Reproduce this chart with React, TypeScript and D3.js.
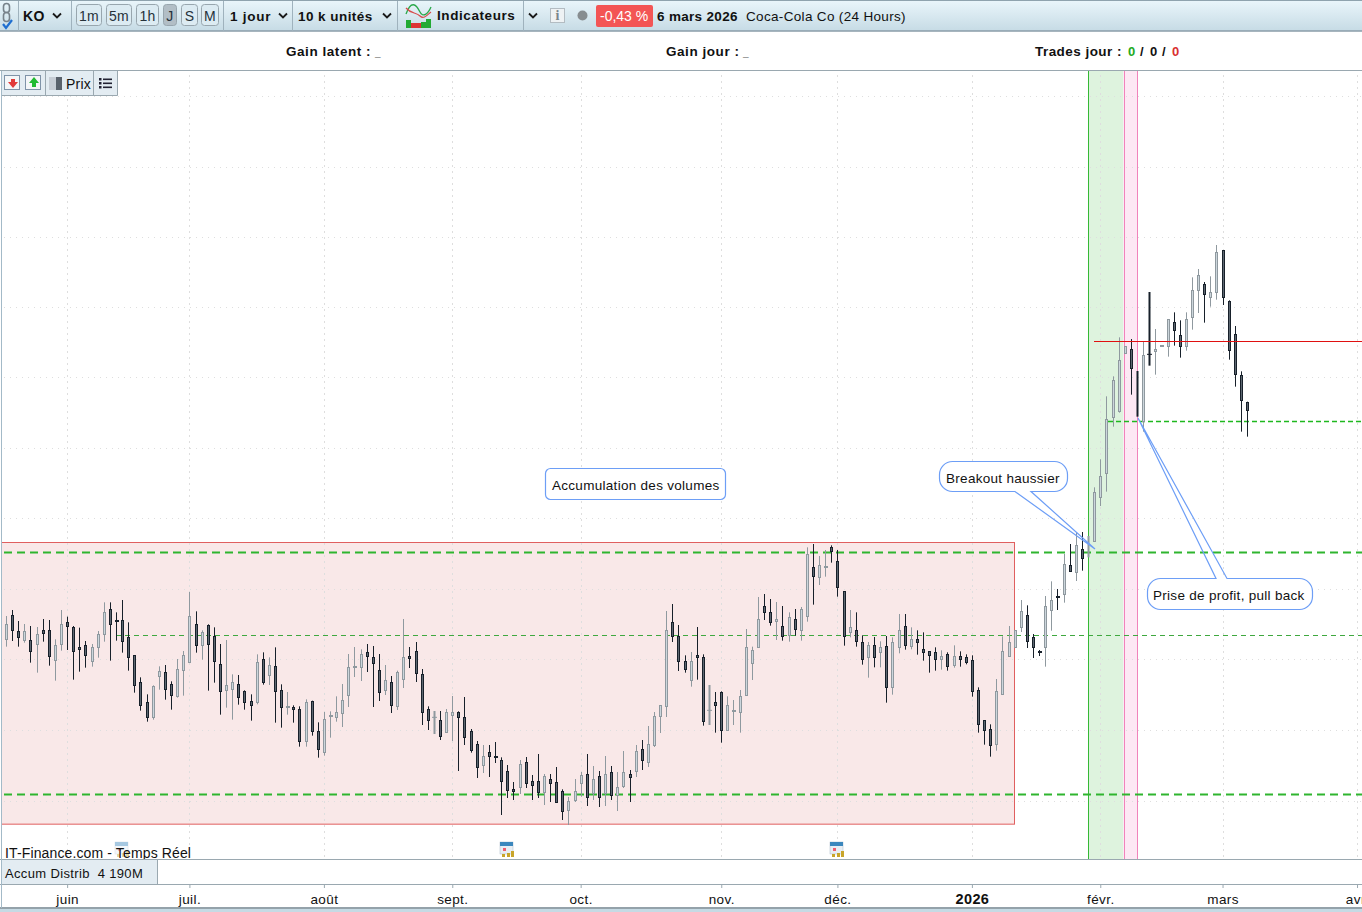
import { useEffect, useRef } from "react";
import * as d3 from "d3";

// Daily candles, Coca-Cola Co, no price axis on the screen so prices are read relative to the picture
const opens = [
  68.82, 69.54, 69.06, 68.79, 68.79, 68.67, 69.09, 69.09, 68.19, 68.67,
  69.33, 69.18, 68.58, 68.64, 68.16, 68.58, 68.97, 69.72, 69.40, 69.39,
  68.88, 68.34, 67.53, 66.93, 66.48, 67.71, 67.83, 67.47, 67.13, 67.89,
  68.13, 69.27, 68.64, 69.24, 68.91, 68.07, 67.29, 67.32, 67.47, 67.26,
  66.96, 66.93, 68.22, 67.74, 68.01, 67.29, 66.80, 66.78, 66.72, 65.76,
  66.96, 66.06, 65.43, 66.51, 66.48, 66.62, 67.16, 68.01, 68.00, 68.43,
  68.28, 67.89, 67.31, 67.53, 66.83, 67.62, 68.31, 68.46, 67.77, 66.72,
  66.45, 66.39, 66.05, 66.56, 66.63, 66.48, 66.06, 65.67, 65.06, 65.43,
  65.31, 65.19, 64.86, 64.32, 64.40, 65.13, 64.56, 64.56, 64.25, 64.62,
  64.53, 64.26, 63.71, 64.01, 64.52, 64.77, 64.20, 64.71, 64.20, 64.83,
  64.15, 64.43, 64.77, 64.87, 65.52, 65.15, 65.66, 66.53, 66.83, 69.33,
  68.92, 68.16, 67.61, 68.34, 68.28, 66.67, 66.93, 67.23, 66.11, 66.67,
  66.63, 67.16, 68.12, 68.58, 69.81, 69.63, 69.36, 69.21, 68.94, 69.42,
  69.09, 69.51, 70.98, 70.68, 71.00, 71.58, 71.16, 70.26, 69.03, 69.09,
  68.73, 68.28, 68.64, 68.43, 68.61, 67.38, 68.58, 69.21, 68.61, 68.82,
  68.52, 68.46, 68.43, 68.22, 68.37, 68.04, 68.31, 68.28, 68.19, 67.29,
  66.39, 66.12, 65.67, 67.17, 68.33, 68.58, 69.18, 69.54, 68.90, 68.48,
  68.60, 69.69, 70.11, 70.17, 71.04, 70.85, 71.52, 71.28, 71.76, 73.08,
  73.80, 75.50, 75.68, 77.42, 77.52, 76.86, 75.36, 77.38, 77.48, 77.63,
  77.61, 78.33, 77.94, 77.61, 78.48, 79.29, 79.47, 79.08, 79.23, 80.49,
  78.96, 77.97, 76.74, 75.93,
];
const highs = [
  69.52, 69.70, 69.37, 69.28, 69.22, 69.19, 69.43, 69.40, 68.82, 69.70,
  69.50, 69.22, 69.17, 68.77, 68.68, 69.07, 69.93, 69.93, 69.63, 70.00,
  69.33, 68.34, 67.68, 67.17, 67.44, 68.01, 68.05, 67.56, 68.23, 68.47,
  70.24, 69.66, 69.09, 69.27, 69.18, 68.68, 68.80, 67.77, 67.75, 67.29,
  67.17, 68.37, 68.43, 68.28, 68.58, 67.47, 67.24, 66.84, 66.81, 67.02,
  66.98, 66.33, 66.64, 66.66, 67.11, 67.48, 68.38, 68.59, 68.52, 68.68,
  68.62, 68.38, 68.05, 67.72, 67.88, 69.43, 68.59, 68.74, 67.93, 66.81,
  66.67, 66.67, 66.73, 67.12, 66.66, 67.09, 66.13, 65.77, 65.65, 65.65,
  65.74, 65.28, 65.05, 64.54, 65.20, 65.29, 64.75, 65.38, 64.78, 64.78,
  64.99, 64.32, 64.09, 64.63, 64.84, 65.38, 65.02, 64.87, 65.32, 65.02,
  64.84, 65.47, 64.90, 65.65, 65.80, 66.22, 66.64, 66.84, 69.67, 69.88,
  69.25, 68.34, 68.44, 69.19, 68.37, 67.45, 67.24, 67.26, 67.11, 67.00,
  67.30, 69.13, 68.60, 70.09, 70.18, 70.03, 69.94, 69.82, 69.63, 69.73,
  69.79, 71.58, 71.68, 71.32, 71.50, 71.64, 71.50, 70.26, 69.70, 69.63,
  68.94, 68.74, 68.89, 68.76, 68.92, 68.88, 69.58, 69.58, 69.18, 69.09,
  69.03, 68.46, 68.58, 68.49, 68.43, 68.64, 68.46, 68.37, 68.34, 67.38,
  66.39, 66.27, 67.63, 68.91, 69.22, 69.09, 70.00, 69.84, 68.98, 68.50,
  70.12, 70.56, 70.33, 71.38, 71.68, 72.04, 72.04, 71.92, 73.38, 74.22,
  76.11, 76.71, 77.88, 77.61, 77.83, 76.87, 77.75, 79.24, 78.13, 77.65,
  78.42, 78.63, 78.39, 78.63, 79.68, 79.93, 79.54, 79.71, 80.65, 80.49,
  78.99, 78.22, 76.86, 75.95,
];
const lows = [
  68.60, 68.77, 68.60, 68.72, 68.12, 67.82, 68.75, 68.03, 67.58, 68.48,
  68.50, 67.61, 67.85, 67.97, 68.00, 68.27, 68.75, 68.18, 68.78, 68.42,
  67.88, 67.22, 66.68, 66.35, 66.41, 67.31, 67.01, 66.71, 67.07, 67.13,
  68.13, 68.42, 68.21, 67.28, 67.52, 66.56, 66.77, 66.41, 66.86, 66.71,
  66.38, 66.87, 67.46, 67.45, 66.32, 66.17, 66.56, 66.32, 65.60, 65.60,
  65.93, 65.27, 65.33, 65.87, 66.35, 66.19, 66.79, 67.69, 67.57, 67.84,
  66.79, 66.97, 67.15, 66.61, 66.70, 67.36, 67.96, 67.54, 66.25, 66.10,
  65.98, 65.80, 66.05, 65.77, 64.87, 65.65, 65.42, 64.66, 64.81, 64.69,
  65.11, 63.55, 64.06, 64.00, 64.18, 64.36, 64.00, 64.06, 63.85, 63.94,
  63.91, 63.40, 63.25, 63.94, 64.10, 63.82, 64.00, 63.79, 63.82, 64.00,
  63.67, 64.36, 63.94, 64.69, 64.90, 64.99, 65.59, 66.01, 66.49, 68.74,
  67.87, 67.82, 67.40, 67.61, 66.23, 66.25, 66.02, 65.72, 66.10, 66.25,
  66.02, 67.13, 67.60, 68.58, 69.40, 69.23, 68.80, 68.78, 68.75, 68.93,
  68.78, 69.35, 69.86, 70.45, 70.70, 71.12, 70.10, 68.63, 68.88, 68.60,
  68.06, 67.67, 67.98, 67.98, 66.92, 67.16, 68.40, 68.51, 68.52, 68.36,
  68.18, 67.82, 67.88, 67.91, 67.88, 67.97, 68.00, 68.07, 67.10, 66.02,
  65.66, 65.30, 65.48, 67.17, 68.33, 68.58, 69.04, 68.56, 68.26, 68.32,
  68.00, 69.08, 69.70, 69.92, 70.85, 70.57, 70.88, 71.28, 71.76, 72.82,
  73.25, 75.20, 75.62, 77.42, 76.16, 75.50, 75.05, 77.03, 76.76, 77.63,
  77.30, 77.63, 77.27, 77.48, 78.11, 78.61, 78.32, 78.80, 79.01, 78.85,
  77.21, 76.40, 75.05, 74.90,
];
const closes = [
  69.27, 69.09, 68.90, 69.06, 68.46, 68.97, 69.02, 68.31, 68.64, 69.27,
  69.21, 68.46, 68.52, 68.34, 68.58, 68.97, 69.63, 69.27, 69.38, 68.76,
  68.28, 67.44, 66.84, 66.48, 67.41, 67.86, 67.32, 67.14, 67.92, 68.34,
  69.51, 68.64, 69.03, 68.67, 68.16, 67.26, 67.44, 67.53, 67.08, 66.93,
  66.84, 68.13, 67.53, 68.04, 67.26, 66.78, 66.81, 66.72, 65.76, 66.93,
  66.06, 65.52, 66.42, 66.54, 66.63, 66.99, 67.98, 68.03, 68.37, 68.33,
  68.12, 67.25, 67.59, 66.86, 67.84, 68.28, 68.27, 67.82, 66.65, 66.41,
  66.48, 65.93, 66.63, 66.63, 66.50, 65.90, 65.51, 65.00, 65.31, 65.33,
  65.28, 64.58, 64.31, 64.28, 65.07, 64.52, 64.46, 64.25, 64.71, 64.52,
  63.95, 63.68, 63.96, 64.26, 64.74, 64.10, 64.62, 64.10, 64.77, 64.16,
  64.38, 64.83, 64.70, 65.46, 65.21, 65.67, 66.51, 66.84, 69.09, 68.93,
  68.18, 67.92, 68.16, 68.30, 66.38, 66.69, 66.86, 66.09, 66.84, 66.69,
  67.11, 68.58, 68.49, 69.42, 69.65, 69.33, 69.42, 68.93, 69.48, 69.12,
  69.72, 71.38, 70.71, 71.04, 71.02, 71.48, 70.40, 68.93, 69.18, 68.76,
  68.22, 68.64, 68.28, 68.58, 67.38, 68.73, 69.09, 68.64, 68.82, 68.73,
  68.43, 68.34, 68.22, 68.31, 68.01, 68.31, 68.22, 68.13, 67.26, 66.27,
  66.09, 65.64, 67.26, 68.46, 68.73, 69.09, 69.66, 68.76, 68.60, 68.45,
  69.81, 69.99, 70.09, 71.07, 70.87, 71.64, 71.27, 71.92, 73.23, 73.71,
  75.42, 76.59, 77.19, 77.61, 76.97, 75.51, 77.34, 77.37, 77.52, 77.65,
  78.42, 78.11, 77.61, 78.42, 79.29, 79.74, 79.17, 79.23, 80.43, 79.08,
  77.49, 76.77, 75.99, 75.71,
];

// Bars the platform paints as a thick stem with no body
const stemBars = [70, 115, 177, 185, 187];

const monthLabels = ["juin", "juil.", "août", "sept.", "oct.", "nov.", "déc.", "2026", "févr.", "mars", "avr."];
const monthBars = [10, 30, 52, 73, 94, 117, 136, 158, 179, 199, 221];
const eventBars = [19, 82, 136];

const gridPrices = [85.12, 82.99, 80.89, 78.79, 76.69, 74.56, 72.46, 70.33, 68.23, 66.1, 63.97];

// Levels and zones
const resistance = 71.44;
const support = 64.18;
const midLevel = 68.94;
const pullbackLevel = 75.38;
const lastLevel = 77.77;
const zoneTop = 71.73;
const zoneBottom = 63.28;
const breakoutBars = [177, 182.8];
const profitBars = [182.8, 185];

const FONT = "'Liberation Sans', Arial, sans-serif";
const W = 1362;
const H = 912;

export default function App(): JSX.Element {
  const svgRef = useRef<SVGSVGElement>(null);

  useEffect(() => {
    const svg = d3.select(svgRef.current);
    svg.selectAll("*").remove();

    const x = d3.scaleLinear().domain([0, 203]).range([6, 1247]);
    const y = d3.scaleLinear().domain([88, 88 - H * 0.03]).range([0, H]);
    const top = 71;
    const bottom = 859;

    // gradient for the top toolbar
    const defs = svg.append("defs");
    const grad = defs.append("linearGradient").attr("id", "bar").attr("x2", 0).attr("y2", 1);
    grad.append("stop").attr("offset", 0).attr("stop-color", "#eaf6fb");
    grad.append("stop").attr("offset", 1).attr("stop-color", "#c6dbe5");
    defs.append("clipPath").attr("id", "plot").append("rect").attr("x", 1).attr("y", top).attr("width", W).attr("height", bottom - top);

    svg.append("rect").attr("width", W).attr("height", H).attr("fill", "#fff");

    const plot = svg.append("g").attr("clip-path", "url(#plot)");

    // accumulation zone
    plot.append("rect")
      .attr("x", 1.5).attr("y", Math.round(y(zoneTop)) + 0.5)
      .attr("width", 1013).attr("height", y(zoneBottom) - y(zoneTop))
      .attr("fill", "#f9e8e8").attr("stroke", "#e05f5f");

    // shaded periods
    plot.append("rect").attr("x", x(breakoutBars[0])).attr("y", top)
      .attr("width", x(breakoutBars[1]) - x(breakoutBars[0])).attr("height", bottom - top).attr("fill", "#def3de");
    plot.append("rect").attr("x", x(profitBars[0])).attr("y", top)
      .attr("width", x(profitBars[1]) - x(profitBars[0]) + 0.5).attr("height", bottom - top).attr("fill", "#fde8f4");
    plot.append("line").attr("x1", 1088.5).attr("x2", 1088.5).attr("y1", top).attr("y2", bottom).attr("stroke", "#35b935");
    [x(profitBars[0]), x(profitBars[1])].forEach(px => {
      const p = Math.round(px) + 0.5;
      plot.append("line").attr("x1", p).attr("x2", p).attr("y1", top).attr("y2", bottom).attr("stroke", "#f183bb");
    });

    // dotted grid
    plot.selectAll("line.h").data(gridPrices).enter().append("line")
      .attr("x1", 4).attr("x2", W)
      .attr("y1", d => Math.round(y(d)) + 0.5).attr("y2", d => Math.round(y(d)) + 0.5)
      .attr("stroke", "#dedede").attr("stroke-dasharray", "1,5");
    plot.selectAll("line.v").data(monthBars).enter().append("line")
      .attr("x1", d => Math.round(x(d)) + 0.5).attr("x2", d => Math.round(x(d)) + 0.5)
      .attr("y1", 75).attr("y2", bottom)
      .attr("stroke", "#dedede").attr("stroke-dasharray", "2,4");

    // levels
    const level = (price: number, from: number, color: string, width: number, dash: string) =>
      plot.append("line")
        .attr("x1", from).attr("x2", W)
        .attr("y1", Math.round(y(price)) + 0.5).attr("y2", Math.round(y(price)) + 0.5)
        .attr("stroke", color).attr("stroke-width", width).attr("stroke-dasharray", dash);
    level(resistance, 4, "#2fb52f", 2, "8,5");
    level(support, 4, "#2fb52f", 2, "8,5");
    level(midLevel, 116, "#3fa83f", 1, "5,4");
    level(pullbackLevel, 1108, "#1fb81f", 1.6, "5,3");

    // candles
    const candles = plot.append("g");
    opens.forEach((o, i) => {
      const c = closes[i];
      const up = c >= o;
      const cx = Math.round(x(i));
      const dark = "#17202a";
      const grey = "#8f999f";
      const stemColor = up ? grey : dark;
      const stem = stemBars.includes(i);
      candles.append("line")
        .attr("x1", cx + 0.5).attr("x2", cx + 0.5)
        .attr("y1", y(highs[i])).attr("y2", y(lows[i]))
        .attr("stroke", stemColor).attr("stroke-width", stem ? 2 : 1);
      if (stem) {
        if (Math.abs(o - c) < 0.1) {
          candles.append("line")
            .attr("x1", cx - 2).attr("x2", cx + 3)
            .attr("y1", y(c)).attr("y2", y(c))
            .attr("stroke", stemColor);
        }
        return;
      }
      const t = Math.round(y(Math.max(o, c)));
      const b = Math.round(y(Math.min(o, c)));
      if (b - t < 2) {
        candles.append("rect")
          .attr("x", cx - 1).attr("y", t).attr("width", 4).attr("height", 2)
          .attr("fill", stemColor);
        return;
      }
      candles.append("rect")
        .attr("x", cx - 0.5).attr("y", t + 0.5)
        .attr("width", 2).attr("height", b - t)
        .attr("fill", up ? "#ccd6dc" : "#5d6771")
        .attr("stroke", stemColor);
    });

    plot.append("line")
      .attr("x1", 1094).attr("x2", W)
      .attr("y1", Math.round(y(lastLevel)) + 0.5).attr("y2", Math.round(y(lastLevel)) + 0.5)
      .attr("stroke", "#e01010");

    // callouts: white box, outline drawn over it, the tail stays see-through
    const callout = (l: number, t: number, r: number, b: number, d: string, tx: number, ty: number, label: string) => {
      svg.append("rect").attr("x", l + 3).attr("y", t).attr("width", r - l - 6).attr("height", b - t).attr("fill", "#fff");
      svg.append("rect").attr("x", l).attr("y", t + 3).attr("width", r - l).attr("height", b - t - 6).attr("fill", "#fff");
      svg.append("path").attr("d", d).attr("fill", "none")
        .attr("stroke", "#6d9ef6").attr("stroke-width", 1.2);
      svg.append("text").attr("x", tx).attr("y", ty).text(label)
        .attr("font-family", FONT).attr("font-size", 13.5).attr("letter-spacing", 0.29).attr("fill", "#111");
    };
    const box = (l: number, t: number, r: number, b: number, rad: number, tail?: [number, number, number, number]) => {
      const p = d3.path();
      p.moveTo(l + rad, t);
      if (tail && tail[3] > b === false) {
        p.lineTo(tail[0], t);
        p.lineTo(tail[2], tail[3]);
        p.lineTo(tail[1], t);
      }
      p.lineTo(r - rad, t);
      p.arcTo(r, t, r, t + rad, rad);
      p.lineTo(r, b - rad);
      p.arcTo(r, b, r - rad, b, rad);
      if (tail && tail[3] > b) {
        p.lineTo(tail[1], b);
        p.lineTo(tail[2], tail[3]);
        p.lineTo(tail[0], b);
      }
      p.lineTo(l + rad, b);
      p.arcTo(l, b, l, b - rad, rad);
      p.lineTo(l, t + rad);
      p.arcTo(l, t, l + rad, t, rad);
      p.closePath();
      return p.toString();
    };
    callout(545.5, 468.5, 725.5, 499.5, box(545.5, 468.5, 725.5, 499.5, 5), 552, 490, "Accumulation des volumes");
    callout(939.5, 461.5, 1067.5, 491.5, box(939.5, 461.5, 1067.5, 491.5, 13, [1015, 1031, 1095, 549]), 946, 483, "Breakout haussier");
    callout(1147.5, 578.5, 1312.5, 609.5, box(1147.5, 578.5, 1312.5, 609.5, 13, [1216, 1227, 1138, 418]), 1153, 600, "Prise de profit, pull back");

    // calendar markers
    eventBars.forEach((b, i) => {
      const g = svg.append("g")
        .attr("transform", `translate(${Math.round(x(b)) - 7},842)`)
        .attr("opacity", i === 0 ? 0.45 : 1);
      g.append("rect").attr("width", 13).attr("height", 12).attr("fill", "#e8eef4").attr("stroke", "#a8b8c8").attr("stroke-width", 0.5);
      g.append("rect").attr("width", 13).attr("height", 4).attr("fill", "#3b87bd");
      g.append("rect").attr("x", 3).attr("y", 6).attr("width", 3).attr("height", 3).attr("fill", "#f06070");
      g.append("rect").attr("x", 2).attr("y", 12).attr("width", 3).attr("height", 3).attr("fill", "#c9a52b");
      g.append("rect").attr("x", 7).attr("y", 11).attr("width", 3).attr("height", 4).attr("fill", "#c9a52b");
      g.append("rect").attr("x", 11).attr("y", 9).attr("width", 3).attr("height", 6).attr("fill", "#c9a52b");
    });

    const text = (px: number, py: number, s: string, size = 13, bold = false, spacing = 0.4, color = "#111") =>
      svg.append("text").attr("x", px).attr("y", py).text(s)
        .attr("font-family", FONT).attr("font-size", size)
        .attr("font-weight", bold ? "bold" : "normal")
        .attr("letter-spacing", spacing).attr("fill", color);
    const hline = (yy: number, color: string, w = 1) =>
      svg.append("line").attr("x1", 0).attr("x2", W).attr("y1", yy).attr("y2", yy).attr("stroke", color).attr("stroke-width", w);

    text(5, 858, "IT-Finance.com - Temps Réel", 14, false, 0.13);

    // lower panels
    svg.append("rect").attr("x", 0).attr("y", 859).attr("width", W).attr("height", 53).attr("fill", "#fff");
    hline(859.5, "#9aa8b0");
    svg.append("rect").attr("x", 1).attr("y", 860).attr("width", 157).attr("height", 24).attr("fill", "#e3ecf2");
    svg.append("line").attr("x1", 157.5).attr("x2", 157.5).attr("y1", 860).attr("y2", 884).attr("stroke", "#9aa8b0");
    text(5, 878, "Accum Distrib  4 190M", 13, false, 0.35).attr("xml:space", "preserve").style("white-space", "pre");
    hline(884.5, "#9aa8b0");

    // time axis
    const axis = d3.axisBottom(x)
      .tickValues(monthBars)
      .tickSize(3)
      .tickFormat((_, i) => monthLabels[i]);
    const axisG = svg.append("g").attr("transform", "translate(0,885)").call(axis);
    axisG.select(".domain").remove();
    axisG.selectAll("line").attr("stroke", "#9aa8b0");
    axisG.selectAll<SVGTextElement, number>("text")
      .attr("y", 9)
      .attr("font-family", FONT)
      .attr("font-size", d => (d === 158 ? 14.5 : 13.5))
      .attr("font-weight", d => (d === 158 ? "bold" : "normal"))
      .attr("letter-spacing", 0.4)
      .attr("fill", "#111");

    svg.append("rect").attr("x", 0).attr("y", 907).attr("width", W).attr("height", 2).attr("fill", "#94a2aa");
    svg.append("rect").attr("x", 0).attr("y", 909).attr("width", W).attr("height", 3).attr("fill", "#c6dae4");
    svg.append("line").attr("x1", 1.5).attr("x2", 1.5).attr("y1", 32).attr("y2", 908).attr("stroke", "#a3bac8");

    // gains row
    svg.append("rect").attr("x", 0).attr("y", 32).attr("width", W).attr("height", 38).attr("fill", "#fff");
    hline(70.5, "#9aa8b0");
    text(286, 56, "Gain latent : ", 13.5, true, 0.55);
    text(375, 56, "_", 10, true, 0);
    text(666, 56, "Gain jour : ", 13.5, true, 0.55);
    text(743, 56, "_", 10, true, 0);
    text(1035, 56, "Trades jour : ", 13.5, true, 0.45);
    text(1128, 56, "0", 13, true, 0, "#22aa22");
    text(1140, 56, "/", 13, true, 0);
    text(1150, 56, "0", 13, true, 0);
    text(1162, 56, "/", 13, true, 0);
    text(1172, 56, "0", 13, true, 0, "#d93030");

    // order buttons panel
    svg.append("rect").attr("x", 2).attr("y", 71).attr("width", 116).attr("height", 25).attr("fill", "#e3ecf2");
    svg.append("path").attr("d", "M2,95.5H117.5V71").attr("fill", "none").attr("stroke", "#9aa8b0");
    [[4, "#e23a3a", "M8,82h3v-3h4v3h3l-5,6z"], [25, "#22bb33", "M29,83l5,-6l5,6h-3v4h-4v-4z"]].forEach(([bx, col, d]) => {
      svg.append("rect").attr("x", bx as number + 0.5).attr("y", 75.5).attr("width", 15).attr("height", 14)
        .attr("fill", "#f4f6f8").attr("stroke", "#7f93a8");
      svg.append("path").attr("d", d as string).attr("fill", col as string);
    });
    [45.5, 93.5].forEach(sx => svg.append("line").attr("x1", sx).attr("x2", sx).attr("y1", 71).attr("y2", 95).attr("stroke", "#9aa8b0"));
    svg.append("rect").attr("x", 49).attr("y", 77).attr("width", 7).attr("height", 13).attr("fill", "#c7ced6");
    svg.append("rect").attr("x", 56).attr("y", 77).attr("width", 6).attr("height", 13).attr("fill", "#59626c");
    text(66, 89, "Prix", 14, false, 0.2);
    [79, 83, 87].forEach(ly => {
      svg.append("rect").attr("x", 99).attr("y", ly - 1).attr("width", 2.5).attr("height", 2.5).attr("fill", "#223");
      svg.append("rect").attr("x", 103).attr("y", ly - 0.5).attr("width", 9).attr("height", 1.6).attr("fill", "#223");
    });

    // main toolbar
    svg.append("rect").attr("x", 0).attr("y", 0).attr("width", W).attr("height", 31).attr("fill", "url(#bar)");
    hline(0.5, "#8fa3ae");
    hline(31, "#8a9ca8", 1.5);
    [18.5, 71.5, 223.5, 292.5, 397.5, 523.5].forEach(sx =>
      svg.append("line").attr("x1", sx).attr("x2", sx).attr("y1", 1).attr("y2", 31).attr("stroke", "#9fb2bd"));

    // chain icon
    svg.append("rect").attr("x", 3.5).attr("y", 3.5).attr("width", 6).attr("height", 9).attr("rx", 3).attr("fill", "none").attr("stroke", "#77828a").attr("stroke-width", 1.6);
    svg.append("rect").attr("x", 3.5).attr("y", 12.5).attr("width", 6).attr("height", 9).attr("rx", 3).attr("fill", "none").attr("stroke", "#77828a").attr("stroke-width", 1.6);
    svg.append("path").attr("d", "M3,24l3,4l6,-8").attr("fill", "none").attr("stroke", "#1f6fd0").attr("stroke-width", 2.2);

    const chevron = (cx: number) =>
      svg.append("path").attr("d", `M${cx - 4},13.5l4,4l4,-4`).attr("fill", "none").attr("stroke", "#1a1a1a").attr("stroke-width", 1.8);

    text(23, 21, "KO", 14, true, 0.3);
    chevron(57);
    const buttons: [string, number, number, boolean][] = [
      ["1m", 76, 25, false], ["5m", 106, 25, false], ["1h", 136, 22, false],
      ["J", 163, 13, true], ["S", 181, 16, false], ["M", 201, 17, false],
    ];
    buttons.forEach(([label, bx, bw, active]) => {
      svg.append("rect").attr("x", bx + 0.5).attr("y", 4.5).attr("width", bw).attr("height", 21).attr("rx", 3)
        .attr("fill", active ? "#b2bec6" : "#dcebf2").attr("stroke", "#98a6ae");
      svg.append("text").attr("x", bx + bw / 2 + 0.5).attr("y", 21).text(label)
        .attr("text-anchor", "middle").attr("font-family", FONT).attr("font-size", 14)
        .attr("letter-spacing", 0.3).attr("fill", "#26323a");
    });
    text(230, 21, "1 jour", 13.5, true, 0.75);
    chevron(283);
    text(298, 21, "10 k unités", 13.5, true, 0.45);
    chevron(387);

    // indicators icon
    svg.append("path").attr("d", "M406,14C411,0 416,4 420,12C423,18 428,14 431,7").attr("fill", "none").attr("stroke", "#2aa84a").attr("stroke-width", 1.3);
    svg.append("path").attr("d", "M406,8C411,14 416,12 420,16C424,20 428,14 431,12").attr("fill", "none").attr("stroke", "#d84a4a").attr("stroke-width", 1.2);
    [[406, 20, "#22aa33"], [411, 23, "#dd3333"], [416, 23, "#dd3333"], [421, 22, "#22aa33"], [426, 19, "#22aa33"]].forEach(([bx, by, col]) =>
      svg.append("rect").attr("x", bx as number).attr("y", by as number).attr("width", 5).attr("height", 28 - (by as number)).attr("fill", col as string));
    text(437, 20, "Indicateurs", 13.5, true, 0.58);
    chevron(533);

    svg.append("rect").attr("x", 550.5).attr("y", 8.5).attr("width", 14).attr("height", 14).attr("fill", "#eef2f4").attr("stroke", "#b3bcc2");
    svg.append("text").attr("x", 557.5).attr("y", 20).text("i").attr("text-anchor", "middle")
      .attr("font-family", "'Liberation Serif', serif").attr("font-weight", "bold").attr("font-size", 14).attr("fill", "#7a868c");
    svg.append("circle").attr("cx", 582.5).attr("cy", 15.5).attr("r", 5).attr("fill", "#878d90");

    svg.append("rect").attr("x", 596).attr("y", 5).attr("width", 57).attr("height", 22).attr("rx", 2).attr("fill", "#f35555");
    text(600, 21, "-0,43 %", 14, false, 0, "#fff");
    text(657, 21, "6 mars 2026", 13.5, true, 0.32);
    text(746, 21, "Coca-Cola Co (24 Hours)", 13.5, false, 0.33);
  }, []);

  return (
    <svg
      ref={svgRef}
      width={W}
      height={H}
      style={{ position: "absolute", left: 0, top: 0, display: "block" }}
    />
  );
}
